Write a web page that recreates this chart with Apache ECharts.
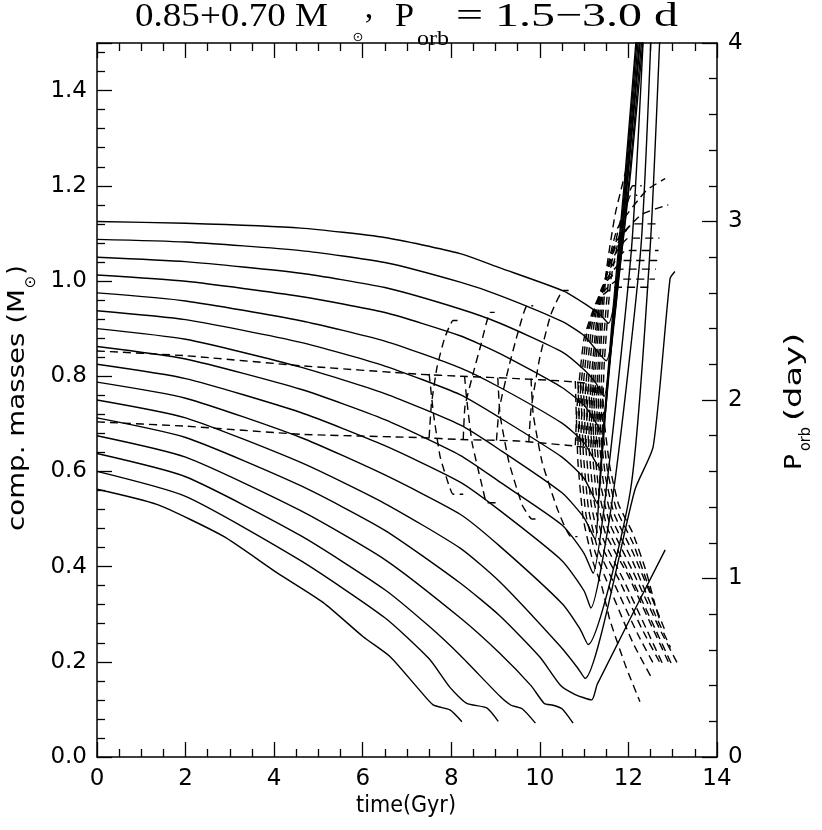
<!DOCTYPE html>
<html>
<head>
<meta charset="utf-8">
<script src="https://cdn.jsdelivr.net/npm/echarts@6/dist/echarts.min.js"></script>
<style>
  html, body { margin: 0; padding: 0; background: #fff; }
  #main { width: 822px; height: 830px; }
</style>
</head>
<body>
<div id="main"></div>
<script>
// axis ranges (ticks come from interval)
const timeRange = [0, 14];
const massRange = [0, 1.5];
const periodRange = [0, 4];

// orbital period tracks [time Gyr, P_orb day], one per initial period 3.0 ... 1.5 d
const p30 = [[0,3.0],[2,2.99],[4.6,2.963],[6.5,2.91],[8.2,2.82],[9.1,2.74],[10.54,2.61],[11.07,2.53],[11.35,2.48],[11.55,2.43],[11.78,2.7],[12.06,3.3],[12.36,4.1]];
const p29 = [[0,2.9],[2,2.885],[4.6,2.837],[6.5,2.77],[8.2,2.66],[9.1,2.585],[10.5,2.44],[11.0,2.36],[11.5,2.22],[11.7,2.5],[12.04,3.3],[12.33,4.1]];
const p28 = [[0,2.8],[2,2.775],[4.6,2.71],[6.5,2.63],[8.2,2.51],[9.1,2.43],[10.5,2.27],[11.0,2.17],[11.25,2.1],[11.45,2.02],[11.63,2.35],[12.0,3.28],[12.3,4.1]];
const p27 = [[0,2.7],[2,2.665],[4.6,2.58],[6.5,2.49],[8.2,2.36],[9.1,2.26],[10.5,2.07],[11.0,1.97],[11.2,1.9],[11.4,1.82],[11.55,2.15],[11.72,2.53],[11.98,3.25],[12.28,4.1]];
const p26 = [[0,2.6],[2,2.555],[4.6,2.444],[6.5,2.33],[8.2,2.18],[9.1,2.07],[10.5,1.87],[11.0,1.76],[11.35,1.62],[11.47,1.9],[11.7,2.53],[11.96,3.25],[12.25,4.1]];
const p25 = [[0,2.5],[2,2.45],[4.6,2.323],[6.5,2.19],[8.2,2.03],[9.1,1.9],[10.5,1.68],[11.0,1.56],[11.3,1.42],[11.41,1.72],[11.68,2.53],[11.94,3.25],[12.22,4.1]];
const p24 = [[0,2.4],[2,2.34],[4.6,2.184],[6.5,2.036],[8.2,1.86],[9.1,1.72],[10.5,1.48],[11.0,1.34],[11.25,1.22],[11.34,1.5],[11.4,1.72],[11.66,2.53],[11.92,3.25],[12.2,4.1]];
const p23 = [[0,2.3],[2,2.23],[4.6,2.06],[6.5,1.89],[8.2,1.69],[9.1,1.54],[10.5,1.3],[11.0,1.14],[11.2,1.03],[11.5,1.5],[12.07,2.85],[12.35,4.1]];
const p22 = [[0,2.2],[2,2.12],[4.6,1.93],[6.5,1.744],[8.2,1.54],[9.1,1.38],[10.5,1.1],[11.0,0.93],[11.15,0.835],[11.67,1.5],[12.28,2.85],[12.52,4.1]];
const p21 = [[0,2.1],[2,2.01],[4.6,1.79],[6.5,1.58],[8.2,1.36],[9.1,1.18],[10.5,0.86],[10.9,0.72],[11.09,0.63],[12.05,1.5],[12.49,2.85],[12.72,4.1]];
const p20 = [[0,2.0],[2,1.9],[4.6,1.65],[6.5,1.42],[8.2,1.17],[9.1,0.98],[10.46,0.62],[10.85,0.5],[11.02,0.44],[12.15,1.5],[12.56,1.74],[12.94,2.68],[13.05,2.72]];
const p19 = [[0,1.9],[2,1.79],[4.6,1.52],[6.5,1.27],[8.2,0.975],[9.1,0.79],[10.0,0.56],[10.47,0.4],[10.8,0.35],[11.17,0.32],[11.3,0.41],[12.83,1.16]];
const p18 = [[0,1.8],[2,1.68],[4.6,1.38],[6.5,1.106],[8.2,0.78],[9.1,0.58],[9.8,0.4],[10.1,0.3],[10.3,0.29],[10.5,0.27],[10.75,0.19]];
const p17 = [[0,1.7],[2,1.57],[4.6,1.24],[6.5,0.937],[7.5,0.732],[8.2,0.57],[9.1,0.34],[9.35,0.29],[9.6,0.27],[9.9,0.19]];
const p16 = [[0,1.6],[2,1.46],[4.6,1.1],[6.5,0.78],[7.5,0.55],[7.97,0.39],[8.35,0.3],[8.8,0.275],[9.06,0.2]];
const p15 = [[0,1.5],[1.35,1.415],[2.85,1.237],[4.06,1.033],[5.11,0.865],[6.01,0.674],[6.62,0.562],[7.22,0.393],[7.59,0.292],[7.97,0.264],[8.24,0.198]];

// component masses [time Gyr, M_sun]: common tracks before mass transfer
const donorPre = [[0,0.853],[2,0.843],[4.6,0.822],[7.3,0.804],[8.2,0.8],[9.5,0.795],[10.5,0.79],[11.1,0.785]];
const accPre = [[0,0.704],[2,0.695],[4.6,0.678],[7.3,0.671],[8.2,0.667],[9.5,0.664],[10.6,0.655],[11.1,0.65]];

// accretor / donor during mass transfer, per initial period
const acc15 = [[7.5,0.671],[7.55,0.74],[7.68,0.82],[7.85,0.88],[8.04,0.917],[8.15,0.917]];
const don15 = [[7.5,0.805],[7.6,0.72],[7.75,0.63],[7.95,0.57],[8.04,0.552],[8.27,0.552]];
const acc16 = [[8.27,0.667],[8.31,0.737],[8.5,0.808],[8.66,0.863],[8.88,0.934],[8.98,0.934]];
const don16 = [[8.3,0.8],[8.35,0.75],[8.47,0.66],[8.72,0.56],[8.8,0.534],[9.0,0.534]];
const acc17 = [[9.02,0.665],[9.08,0.73],[9.3,0.82],[9.5,0.89],[9.71,0.948],[9.85,0.948]];
const don17 = [[9.05,0.797],[9.1,0.72],[9.3,0.62],[9.6,0.53],[9.82,0.5],[9.95,0.5]];
const acc18 = [[9.75,0.662],[9.8,0.73],[10.0,0.84],[10.25,0.93],[10.53,0.98],[10.65,0.98]];
const don18 = [[9.8,0.795],[9.85,0.72],[10.05,0.62],[10.4,0.52],[10.7,0.463],[10.85,0.463]];
const acc19 = [[10.8,0.655],[10.85,0.75],[11.0,0.88],[11.3,0.96],[11.7,0.987],[12.55,0.987]];
const don19 = [[10.8,0.79],[10.86,0.62],[10.98,0.5],[11.2,0.41],[11.4,0.358],[11.58,0.288],[11.93,0.193],[12.26,0.116]];
const acc20 = [[10.86,0.655],[10.91,0.76],[11.06,0.89],[11.36,0.97],[11.8,1.004],[12.6,1.004]];
const don20 = [[10.86,0.788],[10.92,0.63],[11.04,0.51],[11.25,0.43],[11.6,0.35],[12.1,0.24],[12.5,0.17]];
const acc21 = [[10.92,0.654],[10.97,0.77],[11.12,0.9],[11.42,0.99],[11.85,1.025],[12.62,1.025]];
const don21 = [[10.92,0.787],[10.98,0.64],[11.1,0.52],[11.3,0.44],[11.7,0.36],[12.2,0.26],[12.6,0.19]];
const acc22 = [[10.98,0.653],[11.03,0.77],[11.18,0.91],[11.48,1.0],[11.9,1.043],[12.65,1.043]];
const don22 = [[10.98,0.786],[11.04,0.65],[11.16,0.53],[11.36,0.45],[11.8,0.37],[12.3,0.27],[12.7,0.2]];
const acc23 = [[11.04,0.652],[11.09,0.78],[11.24,0.92],[11.54,1.02],[11.95,1.064],[12.68,1.064]];
const don23 = [[11.04,0.785],[11.1,0.66],[11.22,0.54],[11.42,0.46],[11.9,0.37],[12.4,0.27],[12.8,0.19]];
const acc24 = [[11.1,0.651],[11.15,0.78],[11.3,0.93],[11.6,1.04],[12.0,1.09],[12.7,1.09]];
const don24 = [[11.1,0.784],[11.16,0.67],[11.28,0.55],[11.48,0.47],[12.0,0.38],[12.5,0.28],[12.9,0.2]];
const acc25 = [[11.15,0.65],[11.2,0.79],[11.35,0.95],[11.65,1.06],[12.1,1.12],[12.72,1.12]];
const don25 = [[11.15,0.783],[11.21,0.68],[11.33,0.56],[11.53,0.48],[12.05,0.38],[12.6,0.27],[13.0,0.19]];
const acc26 = [[11.2,0.65],[11.25,0.8],[11.4,0.97],[11.7,1.08],[12.3,1.14],[12.9,1.16]];
const don26 = [[11.2,0.782],[11.26,0.69],[11.38,0.57],[11.58,0.49],[12.1,0.39],[12.7,0.27],[13.1,0.198]];
const acc27 = [[11.25,0.65],[11.3,0.8],[11.45,0.99],[11.75,1.11],[12.4,1.19],[12.83,1.215]];
const don27 = [[11.25,0.781],[11.31,0.7],[11.43,0.58],[11.63,0.5],[12.1,0.41],[12.6,0.3],[12.95,0.23]];
const acc28 = [[11.3,0.65],[11.35,0.82],[11.5,1.02],[11.7,1.14],[11.95,1.235]];
const don28 = [[11.3,0.78],[11.36,0.7],[11.48,0.59],[11.68,0.51],[12.1,0.43],[12.55,0.33],[12.85,0.26]];
const acc29 = [[11.35,0.65],[11.4,0.82],[11.55,1.0],[11.8,1.12],[12.1,1.2],[12.3,1.2]];
const don29 = [[11.35,0.78],[11.41,0.7],[11.53,0.6],[11.73,0.52],[12.1,0.45],[12.45,0.36],[12.7,0.29]];
const acc30 = [[11.4,0.65],[11.45,0.82],[11.6,1.0],[11.85,1.12],[12.05,1.18],[12.2,1.18]];
const don30 = [[11.4,0.78],[11.46,0.7],[11.58,0.61],[11.78,0.53],[12.1,0.47],[12.4,0.39],[12.6,0.32]];

const periodTracks = [p30, p29, p28, p27, p26, p25, p24, p23, p22, p21, p20, p19, p18, p17, p16, p15];
const massTracks = [donorPre, accPre,
  acc15, don15, acc16, don16, acc17, don17, acc18, don18,
  acc19, don19, acc20, don20, acc21, don21, acc22, don22, acc23, don23, acc24, don24,
  acc25, don25, acc26, don26, acc27, don27, acc28, don28, acc29, don29, acc30, don30];

const chart = echarts.init(document.getElementById('main'), null, { renderer: 'canvas' });

// text pieces (title and axis names with subscripts)
const ctx = document.createElement('canvas').getContext('2d');
function fitText(str, x, y, len, size, family, rot) {
  const font = size + 'px ' + family;
  ctx.font = font;
  const w = ctx.measureText(str).width;
  return {
    type: 'text', x: x, y: y, rotation: rot || 0, scaleX: len / w, silent: true, z: 100,
    style: { text: str, x: 0, y: 0, font: font, fill: '#000', textAlign: 'left', textVerticalAlign: 'middle' }
  };
}
function plainText(str, x, y, size, family, rot) {
  return {
    type: 'text', x: x, y: y, rotation: rot || 0, silent: true, z: 100,
    style: { text: str, x: 0, y: 0, font: size + 'px ' + family, fill: '#000', textAlign: 'center', textVerticalAlign: 'middle' }
  };
}
const serif = '"Liberation Serif"';
const sans = '"DejaVu Sans"';
const up = Math.PI / 2;

const tickStyle = { color: '#000', width: 1.3 };
const labelStyle = { color: '#000', fontSize: 23, fontFamily: 'DejaVu Sans' };

function xAxisCfg(pos, showLabel) {
  return {
    type: 'value', position: pos, min: timeRange[0], max: timeRange[1], interval: 2,
    axisLine: { show: true, onZero: false, lineStyle: { color: '#000', width: 1.5 } },
    axisTick: { show: true, inside: true, length: 15, lineStyle: tickStyle },
    minorTick: { show: true, splitNumber: 4, length: 8, lineStyle: tickStyle },
    splitLine: { show: false },
    axisLabel: Object.assign({ show: showLabel, margin: 11 }, labelStyle)
  };
}

const option = {
  animation: false,
  backgroundColor: '#fff',
  grid: { left: 97, right: 105, top: 43, bottom: 73, containLabel: false },
  xAxis: [xAxisCfg('bottom', true), xAxisCfg('top', false)],
  yAxis: [
    {
      type: 'value', position: 'left', min: massRange[0], max: massRange[1], interval: 0.2,
      axisLine: { show: true, onZero: false, lineStyle: { color: '#000', width: 1.5 } },
      axisTick: { show: true, inside: true, length: 15, lineStyle: tickStyle },
      minorTick: { show: true, splitNumber: 5, length: 8, lineStyle: tickStyle },
      splitLine: { show: false },
      axisLabel: Object.assign({ margin: 10, showMaxLabel: false, formatter: v => v.toFixed(1) }, labelStyle)
    },
    {
      type: 'value', position: 'right', min: periodRange[0], max: periodRange[1], interval: 1,
      axisLine: { show: true, onZero: false, lineStyle: { color: '#000', width: 1.5 } },
      axisTick: { show: true, inside: true, length: 15, lineStyle: tickStyle },
      minorTick: { show: true, splitNumber: 5, length: 8, lineStyle: tickStyle },
      splitLine: { show: false },
      axisLabel: Object.assign({ margin: 11 }, labelStyle)
    }
  ],
  series: [],
  graphic: [
    // title
    fitText('0.85+0.70 M', 135, 17, 193, 34, serif),
    plainText('\u2299', 358, 38, 13, sans),
    plainText(',', 369, 9, 34, serif),
    fitText('P', 395, 17, 19, 34, serif),
    fitText('orb', 417, 39, 32, 21, serif),
    fitText('= 1.5\u22123.0 d', 456, 17, 222, 34, serif),
    // left axis name
    fitText('comp. masses (M', 18, 531, 242, 23, sans, up),
    plainText('\u2299', 31, 282, 15, sans, up),
    plainText(')', 18, 270, 23, sans, up),
    // right axis name
    fitText('P', 795, 470, 16, 23, sans, up),
    fitText('orb', 806, 451, 24, 15, sans, up),
    fitText('(day)', 795, 421, 88, 23, sans, up),
    // x axis name
    fitText('time(Gyr)', 356, 806, 100, 23, sans)
  ]
};

periodTracks.forEach(function (d) {
  option.series.push({
    type: 'line', xAxisIndex: 0, yAxisIndex: 1, data: d, symbol: 'none', smooth: 0.2,
    silent: true, lineStyle: { color: '#000', width: 1.4 }
  });
});
massTracks.forEach(function (d) {
  option.series.push({
    type: 'line', xAxisIndex: 0, yAxisIndex: 0, data: d, symbol: 'none', smooth: 0.15,
    silent: true, lineStyle: { color: '#000', width: 1.4, type: [8, 5] }
  });
});

chart.setOption(option);
</script>
</body>
</html>
